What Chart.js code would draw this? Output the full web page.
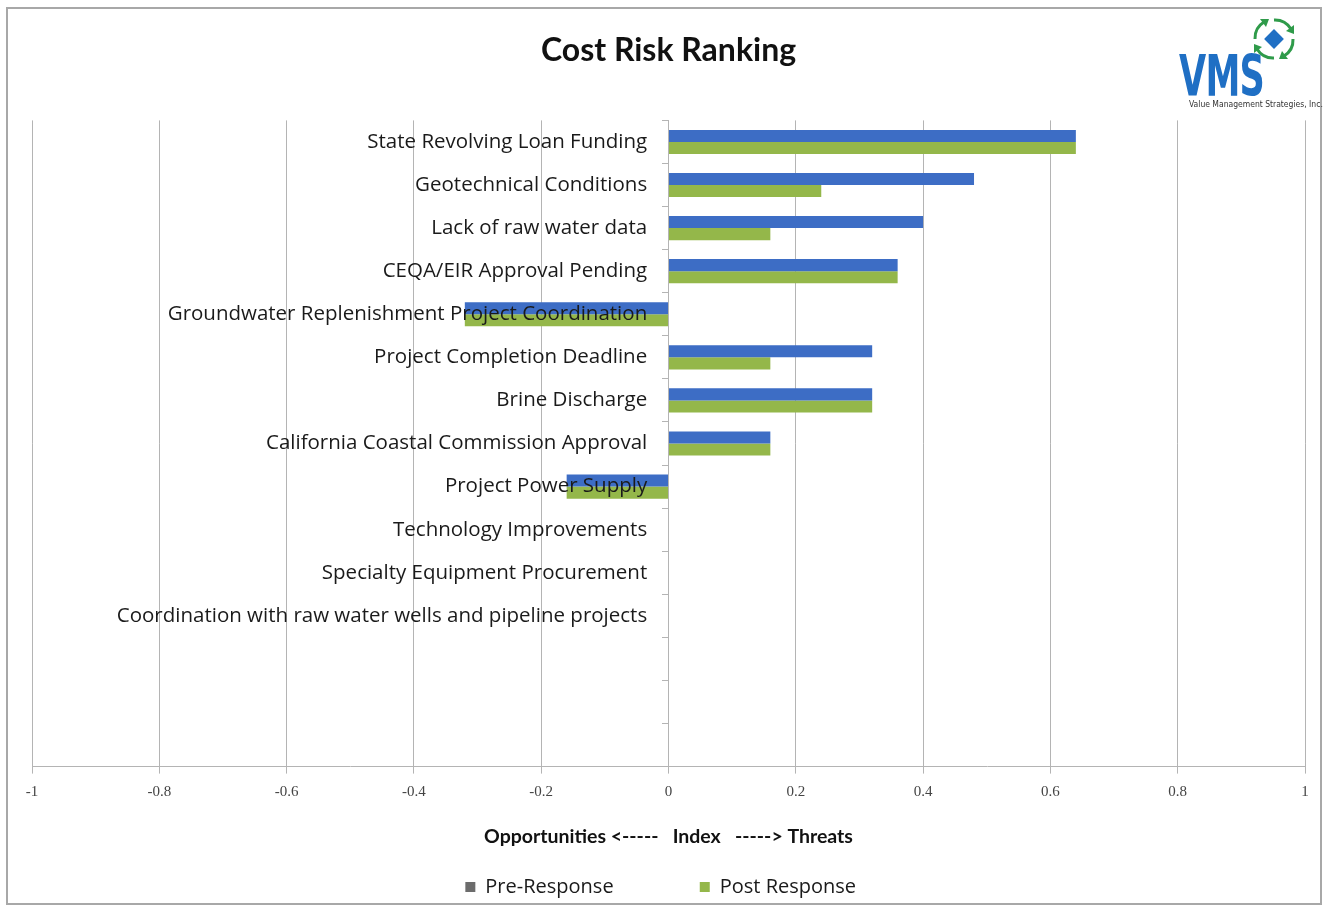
<!DOCTYPE html>
<html lang="en">
<head>
  <meta charset="UTF-8" />
  <title>Cost Risk Ranking</title>
  <script src="https://cdn.jsdelivr.net/npm/chart.js@4.4.1/dist/chart.umd.min.js"></script>
  <style>
    body {
      margin: 0;
      background: #ffffff;
      width: 1330px;
      height: 907px;
      overflow: hidden;
    }

    .frame {
      position: absolute;
      left: 6px;
      top: 7px;
      width: 1312px;
      height: 894px;
      border: 2px solid #a8a8a8;
    }

    #riskChart {
      position: absolute;
      left: 0;
      top: 0;
    }

    .logo-mark {
      position: absolute;
      left: 1249px;
      top: 14px;
    }

    .logo-name {
      position: absolute;
      left: 1179px;
      top: 44px;
      font-family: 'Liberation Sans Narrow', 'DejaVu Sans Condensed', sans-serif;
      font-weight: bold;
      font-size: 50px;
      color: #1f6fc4;
      letter-spacing: -1px;
      transform: scale(0.78, 1.14);
      transform-origin: left top;
    }

    .logo-sub {
      position: absolute;
      left: 1189px;
      top: 99px;
      font-family: 'Liberation Sans Narrow', 'DejaVu Sans Condensed', sans-serif;
      font-size: 8.5px;
      color: #333333;
      white-space: nowrap;
    }
  </style>
</head>
<body>
  <div class="frame"></div>
  <canvas id="riskChart" width="1330" height="907"></canvas>

  <!-- company mark, top right -->
  <svg class="logo-mark" width="50" height="50" viewBox="0 0 50 50">
    <rect x="18" y="18" width="14" height="14" fill="#1f6fc4" transform="rotate(45 25 25)" />
    <g fill="none" stroke="#2f9b4a" stroke-width="3">
      <path d="M25 6 A19 19 0 0 1 42 15" />
      <path d="M25 6 A19 19 0 0 1 42 15" transform="rotate(90 25 25)" />
      <path d="M25 6 A19 19 0 0 1 42 15" transform="rotate(180 25 25)" />
      <path d="M25 6 A19 19 0 0 1 42 15" transform="rotate(270 25 25)" />
    </g>
    <g fill="#2f9b4a">
      <polygon points="45,11 45,20 37,17" />
      <polygon points="45,11 45,20 37,17" transform="rotate(90 25 25)" />
      <polygon points="45,11 45,20 37,17" transform="rotate(180 25 25)" />
      <polygon points="45,11 45,20 37,17" transform="rotate(270 25 25)" />
    </g>
  </svg>
  <div class="logo-name">VMS</div>
  <div class="logo-sub">Value Management Strategies, Inc.</div>

  <script>
    // risk items, top to bottom; the last three rows are left blank
    const categories = [
      'State Revolving Loan Funding',
      'Geotechnical Conditions',
      'Lack of raw water data',
      'CEQA/EIR Approval Pending',
      'Groundwater Replenishment Project Coordination',
      'Project Completion Deadline',
      'Brine Discharge',
      'California Coastal Commission Approval',
      'Project Power Supply',
      'Technology Improvements',
      'Specialty Equipment Procurement',
      'Coordination with raw water wells and pipeline projects',
      '',
      '',
      ''
    ];

    const preResponse = [0.64, 0.48, 0.40, 0.36, -0.32, 0.32, 0.32, 0.16, -0.16, 0, 0, 0, null, null, null];
    const postResponse = [0.64, 0.24, 0.16, 0.36, -0.32, 0.16, 0.32, 0.16, -0.16, 0, 0, 0, null, null, null];

    const indexMin = -1;
    const indexMax = 1;
    const indexStep = 0.2;

    const gridGray = '#b4b4b4';
    const nbsp = n => '\u00a0'.repeat(n);

    const ctx = document.getElementById('riskChart').getContext('2d');
    const riskChart = new Chart(ctx, {
      type: 'bar',
      data: {
        labels: categories,
        datasets: [
          {
            label: 'Pre-Response',
            data: preResponse,
            backgroundColor: '#3d6dc5',
            categoryPercentage: 0.56,
            barPercentage: 1.0
          },
          {
            label: 'Post Response',
            data: postResponse,
            backgroundColor: '#94b74a',
            categoryPercentage: 0.56,
            barPercentage: 1.0
          }
        ]
      },
      options: {
        indexAxis: 'y',
        responsive: false,
        animation: false,
        layout: {
          padding: { left: 32, right: 25, top: 0, bottom: 0 }
        },
        plugins: {
          title: {
            display: true,
            text: 'Cost Risk Ranking',
            color: '#111111',
            font: { family: 'Lato', size: 32, weight: 'bold' },
            padding: { top: 31, bottom: 51 }
          },
          legend: {
            position: 'bottom',
            labels: {
              color: '#1a1a1a',
              font: { family: 'Open Sans', size: 20 },
              boxWidth: 10,
              boxHeight: 10,
              padding: 29,
              generateLabels(chart) {
                const items = Chart.defaults.plugins.legend.labels.generateLabels(chart);
                // gray swatch for pre-response, wide gap between the two entries
                items[0].fillStyle = '#6c6c6c';
                items[0].text += nbsp(11);
                items[1].text += nbsp(3);
                items.forEach(it => { it.lineWidth = 0; });
                return items;
              }
            }
          },
          tooltip: { enabled: false }
        },
        scales: {
          x: {
            min: indexMin,
            max: indexMax,
            ticks: {
              stepSize: indexStep,
              color: '#444444',
              font: { family: 'Liberation Serif', size: 15 },
              padding: 9,
              callback: v => String(Math.round(v * 10) / 10)
            },
            grid: {
              color: gridGray,
              tickColor: gridGray,
              tickLength: 7
            },
            border: { color: gridGray },
            title: {
              display: true,
              text: 'Opportunities <-----   Index   -----> Threats',
              color: '#111111',
              font: { family: 'Lato', size: 19.5, weight: 'bold' },
              padding: { top: 15, bottom: 0 }
            }
          },
          y: {
            position: { x: 0 },
            ticks: {
              color: '#1a1a1a',
              font: { family: 'Open Sans', size: 20.5 },
              autoSkip: false,
              z: 1,
              // labels sit a little left of the zero line
              callback: (v, i) => categories[i] ? categories[i] + nbsp(4) : ''
            },
            grid: {
              drawOnChartArea: false,
              color: gridGray,
              tickLength: 6
            },
            border: { color: gridGray }
          }
        }
      }
    });
  </script>
</body>
</html>
